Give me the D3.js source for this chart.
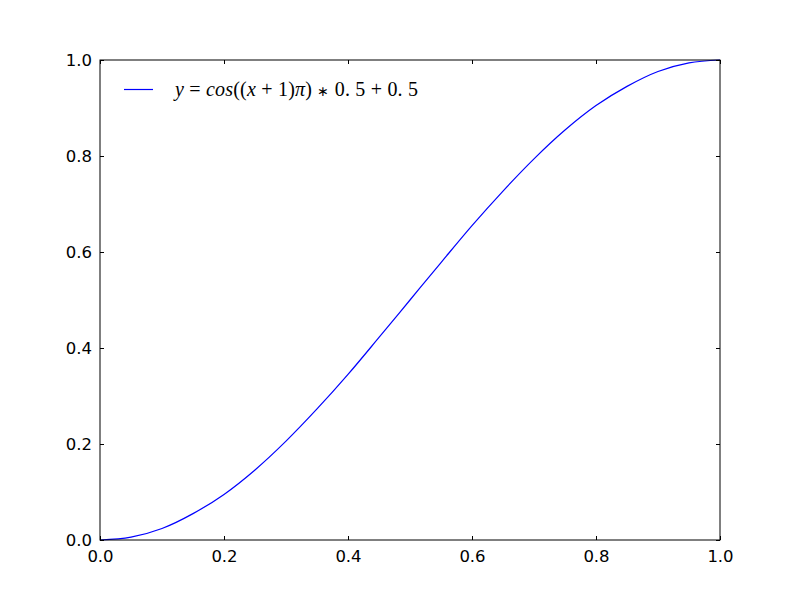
<!DOCTYPE html>
<html>
<head>
<meta charset="utf-8">
<script src="https://cdn.jsdelivr.net/npm/d3@7"></script>
<style>
  body { margin: 0; background: #fff; }
  svg { display: block; }
</style>
</head>
<body>
<div id="chart"></div>
<script>
// curve samples
const xValues = [0, 0.05, 0.1, 0.15, 0.2, 0.25, 0.3, 0.35, 0.4, 0.45, 0.5,
                 0.55, 0.6, 0.65, 0.7, 0.75, 0.8, 0.85, 0.9, 0.95, 1.0];
const yValues = [0, 0.006, 0.024, 0.055, 0.095, 0.146, 0.206, 0.273, 0.345, 0.422, 0.5,
                 0.578, 0.655, 0.727, 0.794, 0.854, 0.905, 0.945, 0.976, 0.994, 1.0];
const xTicks = [0, 0.2, 0.4, 0.6, 0.8, 1.0];
const yTicks = [0, 0.2, 0.4, 0.6, 0.8, 1.0];

const margin = { top: 60, right: 80, bottom: 60, left: 100 };
const width = 800 - margin.left - margin.right;
const height = 600 - margin.top - margin.bottom;

const svg = d3.select("#chart").append("svg")
    .attr("width", 800)
    .attr("height", 600);

const g = svg.append("g")
    .attr("transform", `translate(${margin.left},${margin.top})`);

const x = d3.scaleLinear().domain([0, 1]).range([0, width]);
const y = d3.scaleLinear().domain([0, 1]).range([height, 0]);

const data = xValues.map((v, i) => ({ x: v, y: yValues[i] }));

// the curve
g.append("path")
    .datum(data)
    .attr("fill", "none")
    .attr("stroke", "#0000ff")
    .attr("stroke-width", 1.2)
    .attr("d", d3.line()
        .x(d => x(d.x))
        .y(d => y(d.y))
        .curve(d3.curveMonotoneX));

// axes, ticks inward, on all four sides
const fmt = d3.format(".1f");
function styleAxis(sel) {
    sel.select(".domain").remove();
    sel.selectAll("line").attr("stroke", "#000");
    sel.selectAll("text")
        .attr("fill", "#000")
        .style("font-family", "DejaVu Sans")
        .style("font-size", "16.5px");
}

g.append("g")
    .attr("transform", `translate(0,${height})`)
    .call(d3.axisBottom(x).tickValues(xTicks).tickFormat(fmt).tickSizeInner(-4).tickPadding(10))
    .call(styleAxis);
g.append("g")
    .call(d3.axisTop(x).tickValues(xTicks).tickFormat("").tickSizeInner(-4))
    .call(styleAxis);
g.append("g")
    .call(d3.axisLeft(y).tickValues(yTicks).tickFormat(fmt).tickSizeInner(-4).tickPadding(8))
    .call(styleAxis);
g.append("g")
    .attr("transform", `translate(${width},0)`)
    .call(d3.axisRight(y).tickValues(yTicks).tickFormat("").tickSizeInner(-4))
    .call(styleAxis);

// frame
g.append("rect")
    .attr("width", width)
    .attr("height", height)
    .attr("fill", "none")
    .attr("stroke", "#000")
    .attr("stroke-width", 1);

// legend
g.append("line")
    .attr("x1", 24).attr("x2", 53)
    .attr("y1", 29.5).attr("y2", 29.5)
    .attr("stroke", "#0000ff")
    .attr("stroke-width", 1.2);

// [text, italic, font size]
const parts = [
    ["y", true, 20], [" = ", false, 20], ["cos", true, 20], ["((", false, 20], ["x", true, 20],
    [" + 1)", false, 20], ["π", true, 20], [") ", false, 20], ["∗", false, 14],
    [" 0. 5 + 0. 5", false, 20]
];
const label = g.append("text")
    .attr("x", 75)
    .attr("y", 36)
    .attr("textLength", 243)
    .attr("lengthAdjust", "spacing")
    .style("font-family", "Liberation Serif")
    .style("white-space", "pre");
label.selectAll("tspan")
    .data(parts)
    .enter().append("tspan")
    .style("font-style", d => d[1] ? "italic" : "normal")
    .style("font-size", d => d[2] + "px")
    .text(d => d[0]);
</script>
</body>
</html>
